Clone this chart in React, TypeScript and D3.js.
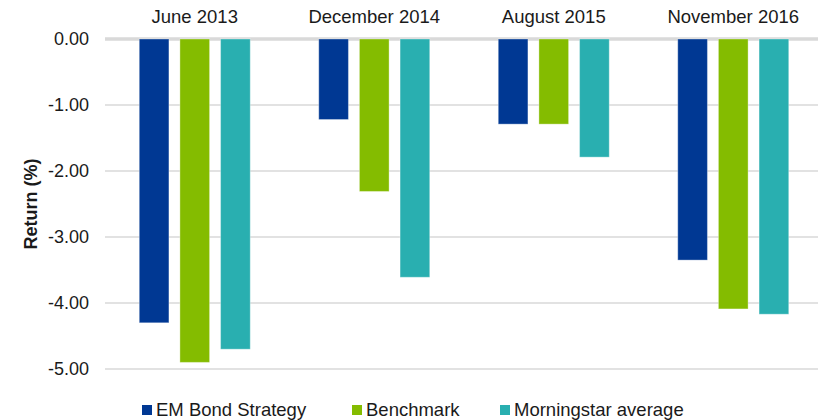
import * as d3 from 'd3'

const periods = ['June 2013', 'December 2014', 'August 2015', 'November 2016']
const seriesNames = ['EM Bond Strategy', 'Benchmark', 'Morningstar average']
const strategy = [-4.3, -1.22, -1.29, -3.35]
const benchmark = [-4.9, -2.31, -1.29, -4.09]
const morningstar = [-4.7, -3.61, -1.79, -4.17]
const colors = ['#003893', '#84bc00', '#29afb0']
const yTicks = [0, -1, -2, -3, -4, -5]

const width = 818
const height = 420
const marginLeft = 105
const marginTop = 39

export default function App() {
  const values = [strategy, benchmark, morningstar]
  const x = d3.scaleBand(periods, [marginLeft, marginLeft + 4 * 179.5])
  const xs = d3
    .scaleBand(seriesNames, [0, 111])
    .paddingInner(0.27)
  const groupOffset = (x.bandwidth() - 111) / 2
  const y = d3.scaleLinear([0, -5], [marginTop, marginTop + 330])
  const font = '"Liberation Sans", Arial, sans-serif'
  const legendX = [142, 352, 500]

  return (
    <svg
      width={width}
      height={height}
      style={{ position: 'absolute', left: 0, top: 0 }}
      fontFamily={font}
    >
      {yTicks.map((t) => (
        <g key={t}>
          <line
            x1={marginLeft}
            x2={width}
            y1={y(t)}
            y2={y(t)}
            stroke="#d9d9d9"
            strokeWidth={t === 0 ? 3.5 : 1.5}
          />
          <text
            x={89}
            y={y(t)}
            dy="0.35em"
            textAnchor="end"
            fontSize={18}
            fill="#1a1a1a"
          >
            {t === 0 ? '0.00' : t.toFixed(2)}
          </text>
        </g>
      ))}
      {periods.map((p, i) => (
        <g key={p} transform={`translate(${(x(p) as number) + groupOffset},0)`}>
          {seriesNames.map((s, j) => (
            <rect
              key={s}
              x={xs(s)}
              y={y(0)}
              width={xs.bandwidth()}
              height={y(values[j][i]) - y(0)}
              fill={colors[j]}
              stroke="#ffffff"
              strokeOpacity={0.35}
              strokeWidth={1}
            />
          ))}
        </g>
      ))}
      {periods.map((p) => (
        <text
          key={p}
          x={(x(p) as number) + x.bandwidth() / 2}
          y={23}
          textAnchor="middle"
          fontSize={18.5}
          fill="#1a1a1a"
        >
          {p}
        </text>
      ))}
      <text
        transform={`translate(37,${204}) rotate(-90)`}
        textAnchor="middle"
        fontSize={18}
        fontWeight="bold"
        fill="#1a1a1a"
      >
        Return (%)
      </text>
      {seriesNames.map((s, j) => (
        <g key={s} transform={`translate(${legendX[j]},410)`}>
          <rect x={0} y={-5} width={10} height={10} fill={colors[j]} />
          <text x={14} y={0} dy="0.35em" fontSize={18.5} fill="#1a1a1a">
            {s}
          </text>
        </g>
      ))}
    </svg>
  )
}
